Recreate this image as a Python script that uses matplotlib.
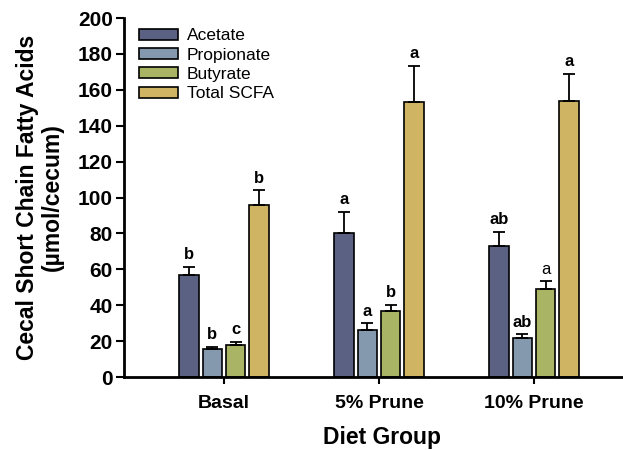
import numpy as np
import matplotlib.pyplot as plt
from matplotlib.patches import Patch

plt.rcParams['font.family'] = ['Liberation Sans', 'DejaVu Sans']

groups = ["Basal", "5% Prune", "10% Prune"]
series = ["Acetate", "Propionate", "Butyrate", "Total SCFA"]
colors = ["#5b6182", "#8498ae", "#a9b565", "#cfb563"]

# mean and SEM per series, per diet group
means = {
    "Acetate":    [57.0, 80.0, 73.0],
    "Propionate": [15.5, 26.0, 22.0],
    "Butyrate":   [18.0, 37.0, 49.0],
    "Total SCFA": [96.0, 153.0, 154.0],
}
errs = {
    "Acetate":    [4.5, 12.0, 8.0],
    "Propionate": [1.3, 4.0, 2.0],
    "Butyrate":   [1.8, 3.3, 4.5],
    "Total SCFA": [8.0, 20.5, 15.0],
}
letters = {
    "Acetate":    ["b", "a", "ab"],
    "Propionate": ["b", "a", "ab"],
    "Butyrate":   ["c", "b", "a"],
    "Total SCFA": ["b", "a", "a"],
}
# the 10% Prune butyrate letter is printed in regular weight
plain = {("Butyrate", 2)}

fig = plt.figure(figsize=(6.23, 4.5), dpi=100)
ax = fig.add_axes([0.199, 0.162, 0.80, 0.798])

x = np.arange(len(groups))
pitch, width = 0.15, 0.125
for i, s in enumerate(series):
    xs = x + (i - 1.5) * pitch
    ax.bar(xs, means[s], width, color=colors[i], edgecolor="black", linewidth=1.2, zorder=2)
    ax.errorbar(xs, means[s], yerr=[np.zeros(3), errs[s]], fmt="none", ecolor="black",
                elinewidth=1.3, capsize=4.5, capthick=1.3, zorder=3)
    for j in range(len(groups)):
        top = means[s][j] + errs[s][j]
        w = "normal" if (s, j) in plain else "bold"
        ax.text(xs[j], top + 2.5, letters[s][j], ha="center", va="bottom",
                fontsize=12, fontweight=w)

ax.set_xlim(-0.645, 2.57)
ax.set_ylim(0, 200)
ax.set_yticks(range(0, 201, 20))
ax.set_xticks(x)
ax.set_xticklabels(groups, fontsize=14, fontweight="bold")
for lab in ax.get_yticklabels():
    lab.set_fontweight("bold")
    lab.set_fontsize(15)
ax.tick_params(axis="y", direction="out", length=6, width=1.5, pad=2)
ax.tick_params(axis="x", direction="out", length=5, width=1.5, pad=8)
for sp in ("top", "right"):
    ax.spines[sp].set_visible(False)
for sp in ("left", "bottom"):
    ax.spines[sp].set_linewidth(2)

ax.set_ylabel("Cecal Short Chain Fatty Acids\n(\u00b5mol/cecum)", fontsize=16.5,
              fontweight="bold", labelpad=10, linespacing=1.12)
ax.set_xlabel("Diet Group", fontsize=16.5, fontweight="bold", labelpad=8)
ax.xaxis.set_label_coords(0.518, -0.135)

handles = [Patch(facecolor=c, edgecolor="black", linewidth=1.2) for c in colors]
ax.legend(handles, series, loc="upper left", bbox_to_anchor=(0.01, 1.0), frameon=False,
          fontsize=12.5, handlelength=2.2, handleheight=0.6, labelspacing=0.25,
          handletextpad=0.55, borderaxespad=0.2)

fig.savefig("out.png", dpi=100)
